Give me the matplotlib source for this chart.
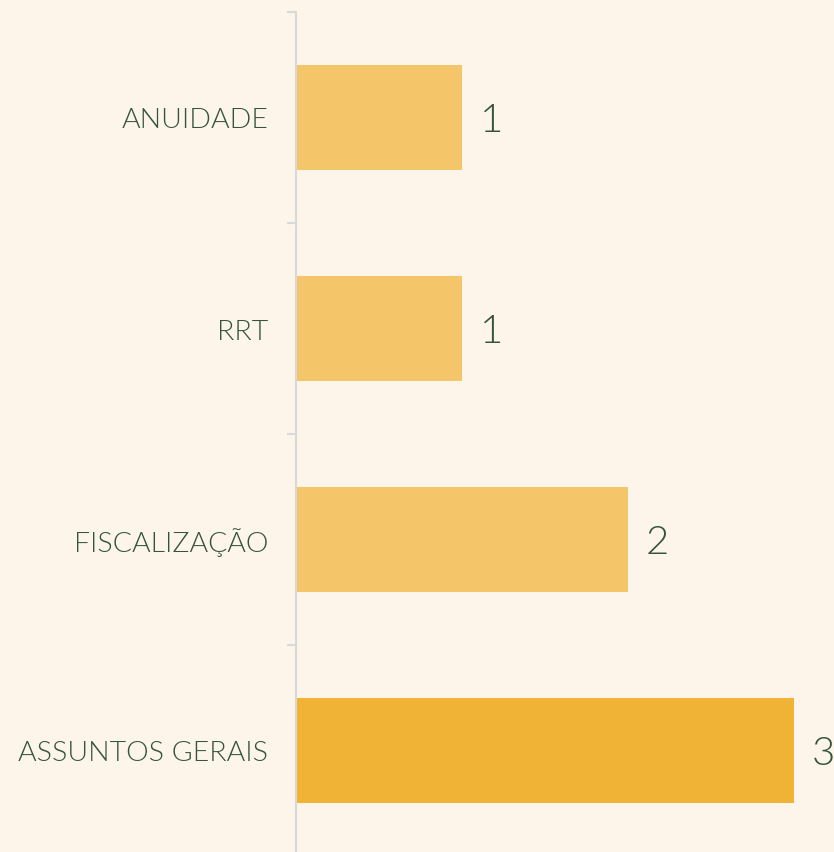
import matplotlib.pyplot as plt

categories = ["ANUIDADE", "RRT", "FISCALIZAÇÃO", "ASSUNTOS GERAIS"]
values = [1, 1, 2, 3]

BG = "#FDF5E9"
TEXT = "#34553A"
BAR = "#F5C56A"
BAR_MAX = "#F0B336"

plt.rcParams["font.family"] = ["Lato", "DejaVu Sans"]

fig = plt.figure(figsize=(8.34, 8.53), dpi=100, facecolor=BG)
# axes: left spine at x=296px, top at y=13px, bands of 211px
ax = fig.add_axes([296 / 834, -4 / 853, 538 / 834, 844 / 853], facecolor=BG)

ypos = list(range(len(categories)))
colors = [BAR_MAX if v == max(values) else BAR for v in values]
ax.barh(ypos, values, height=0.5, color=colors)

ax.set_ylim(len(categories) - 0.5, -0.5)
ax.set_xlim(0, 538 / 166)

ax.set_yticks(ypos)
ax.set_yticklabels(categories, fontsize=20.5, color=TEXT, fontweight=300)
ax.set_yticks([i - 0.5 for i in range(len(categories) + 1)], minor=True)
ax.tick_params(axis="y", which="major", length=0, pad=20)
ax.tick_params(axis="y", which="minor", length=6.5, width=1.5, color="#D9D9D9")
ax.set_xticks([])

for s in ["top", "right", "bottom"]:
    ax.spines[s].set_visible(False)
ax.spines["left"].set_color("#D9D9D9")
ax.spines["left"].set_linewidth(1.5)

for y, v in zip(ypos, values):
    ax.annotate(str(v), (v, y), xytext=(13, -2), textcoords="offset points",
                va="center", ha="left", fontsize=29, color=TEXT, fontweight=300)

fig.savefig("out.png", dpi=100, facecolor=BG)
